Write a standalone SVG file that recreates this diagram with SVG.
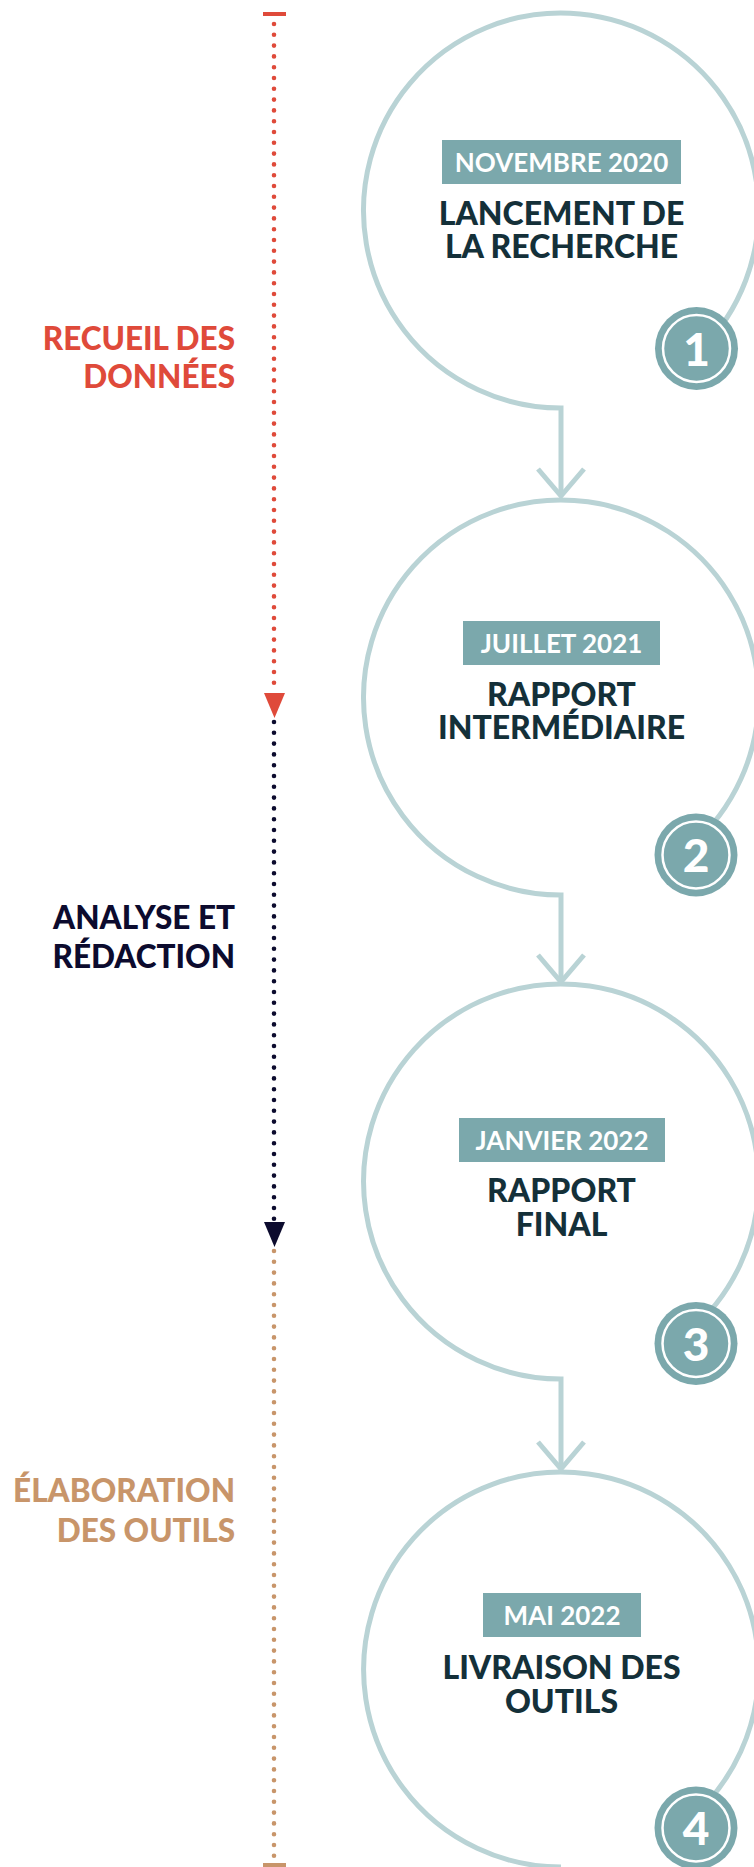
<svg xmlns="http://www.w3.org/2000/svg" width="754" height="1867" viewBox="0 0 754 1867">
<style>
.ring{fill:none;stroke:#B9D3D5;stroke-width:5;stroke-linejoin:miter}
.chev{fill:none;stroke:#B9D3D5;stroke-width:5;stroke-linecap:butt}
.box{fill:#7BA8AC}
.date{font-family:Lato,"Liberation Sans",sans-serif;font-weight:700;font-size:26px;fill:#FFFFFF;text-anchor:middle}
.title{font-family:Lato,"Liberation Sans",sans-serif;font-weight:900;font-size:32px;fill:#143039;text-anchor:middle}
.badge{fill:#7BA8AC}
.badgering{fill:none;stroke:#FFFFFF;stroke-width:2.5}
.num{font-family:Lato,"Liberation Sans",sans-serif;font-weight:900;font-size:46px;fill:#FFFFFF;text-anchor:middle}
.phase{font-family:Lato,"Liberation Sans",sans-serif;font-weight:900;font-size:31.5px;text-anchor:end}
.dots{fill:none;stroke-width:4.6;stroke-linecap:round;stroke-dasharray:0 10.8}
</style>
<rect width="754" height="1867" fill="#FFFFFF"/>

<g id="timeline">
  <rect x="263" y="12" width="23" height="4" fill="#DF4A3A"/>
  <line class="dots" x1="274" y1="24" x2="274" y2="690" stroke="#DF4A3A"/>
  <polygon points="264,693 285,693 274.5,718" fill="#DF4A3A"/>
  <line class="dots" x1="274" y1="722" x2="274" y2="1220" stroke="#0C0B2E"/>
  <polygon points="264,1222 285,1222 274.5,1247" fill="#0C0B2E"/>
  <line class="dots" x1="274" y1="1251" x2="274" y2="1862" stroke="#C8956A"/>
  <rect x="263" y="1863" width="23" height="4" fill="#C8956A"/>
</g>

<g id="phase-recueil">
  <text class="phase" fill="#DF4A3A"><tspan x="235" y="350">RECUEIL DES</tspan><tspan x="235" y="388">DONNÉES</tspan></text>
</g>
<g id="phase-analyse">
  <text class="phase" fill="#0C0B2E"><tspan x="235" y="929">ANALYSE ET</tspan><tspan x="235" y="968">RÉDACTION</tspan></text>
</g>
<g id="phase-elaboration">
  <text class="phase" fill="#C8956A"><tspan x="235" y="1502">ÉLABORATION</tspan><tspan x="235" y="1542">DES OUTILS</tspan></text>
</g>

<g id="connectors">
  <path class="ring" d="M699.4,351.4 A197.5,197.5 0 1 0 561,408 V496"/>
  <polyline class="chev" points="538,469 561,496 584,469"/>
  <path class="ring" d="M689.5,847.5 A197.5,197.5 0 1 0 561,895 V982"/>
  <polyline class="chev" points="538,955 561,982 584,955"/>
  <path class="ring" d="M687.4,1333.3 A197.5,197.5 0 1 0 561,1379 V1469"/>
  <polyline class="chev" points="538,1442 561,1469 584,1442"/>
  <path class="ring" d="M689,1820 A197.5,197.5 0 1 0 561,1867"/>
</g>

<g id="step1">
  <rect class="box" x="442" y="140" width="239" height="44"/>
  <text class="date" x="561.5" y="171.5">NOVEMBRE 2020</text>
  <text class="title"><tspan x="561.5" y="225">LANCEMENT DE</tspan><tspan x="561.5" y="258">LA RECHERCHE</tspan></text>
  <circle class="badge" cx="696.5" cy="348.5" r="41.5"/>
  <circle class="badgering" cx="696.5" cy="348.5" r="33.5"/>
  <text class="num" x="696.5" y="366">1</text>
</g>

<g id="step2">
  <rect class="box" x="463" y="621" width="197" height="44"/>
  <text class="date" x="561.5" y="652.5">JUILLET 2021</text>
  <text class="title"><tspan x="561.5" y="706">RAPPORT</tspan><tspan x="561.5" y="739">INTERMÉDIAIRE</tspan></text>
  <circle class="badge" cx="696" cy="855" r="41.5"/>
  <circle class="badgering" cx="696" cy="855" r="33.5"/>
  <text class="num" x="696" y="872">2</text>
</g>

<g id="step3">
  <rect class="box" x="459" y="1118" width="206" height="44"/>
  <text class="date" x="562" y="1149.5">JANVIER 2022</text>
  <text class="title"><tspan x="561.5" y="1202">RAPPORT</tspan><tspan x="561.5" y="1236">FINAL</tspan></text>
  <circle class="badge" cx="696" cy="1343.5" r="41.5"/>
  <circle class="badgering" cx="696" cy="1343.5" r="33.5"/>
  <text class="num" x="696" y="1360.5">3</text>
</g>

<g id="step4">
  <rect class="box" x="483" y="1593" width="158" height="44"/>
  <text class="date" x="562" y="1624.5">MAI 2022</text>
  <text class="title"><tspan x="561.5" y="1679">LIVRAISON DES</tspan><tspan x="561.5" y="1713">OUTILS</tspan></text>
  <circle class="badge" cx="696" cy="1828" r="41.5"/>
  <circle class="badgering" cx="696" cy="1828" r="33.5"/>
  <text class="num" x="696" y="1845">4</text>
</g>
</svg>
